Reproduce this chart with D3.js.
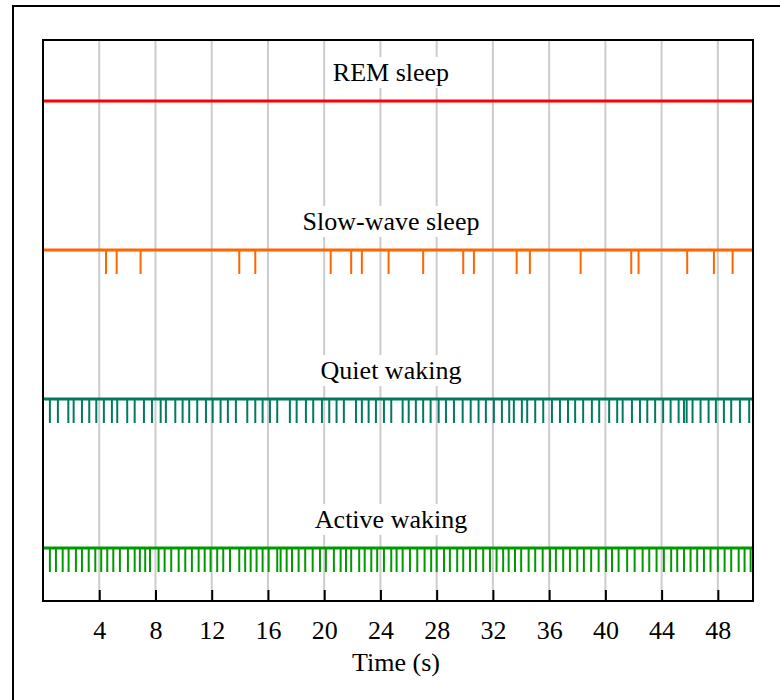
<!DOCTYPE html>
<html>
<head>
<meta charset="utf-8">
<script src="https://cdn.jsdelivr.net/npm/d3@7"></script>
<style>
  html, body { margin: 0; padding: 0; background: #fff; }
  svg { display: block; }
</style>
</head>
<body>
<svg id="chart" width="780" height="700"></svg>
<script>
// ---- data (times in seconds) ----
const states = ["REM sleep", "Slow-wave sleep", "Quiet waking", "Active waking"];
const colors = ["#ff0000", "#ff6600", "#007a62", "#009a00"];
const remSpikes = [];
const swsSpikes = [4.48, 5.24, 6.94, 13.96, 15.10, 20.46, 21.92, 22.68, 24.58, 27.04,
  29.89, 30.65, 33.69, 34.63, 38.24, 41.84, 42.36, 45.82, 47.72, 49.05];
const qwSpikes = [0.49, 1.06, 1.80, 2.18, 2.77, 3.29, 3.79, 4.33, 4.90, 5.28, 5.99, 6.52,
  7.18, 7.75, 8.37, 8.74, 9.41, 9.93, 10.40, 10.97, 11.59, 12.07, 12.63, 13.15, 13.72,
  14.53, 15.10, 15.62, 16.14, 16.66, 17.56, 18.04, 18.70, 19.22, 19.84, 20.36, 20.88,
  21.40, 22.26, 22.68, 23.16, 23.68, 24.25, 24.77, 25.58, 26.01, 26.52, 27.04, 27.57,
  28.14, 28.66, 29.23, 29.85, 30.42, 30.98, 31.50, 32.07, 32.64, 33.16, 33.49, 34.06,
  34.44, 35.01, 35.58, 36.20, 36.77, 37.34, 37.85, 38.42, 39.04, 39.56, 40.27, 40.84,
  41.23, 41.89, 42.46, 42.98, 43.54, 44.11, 44.64, 45.21, 45.59, 45.78, 46.20, 46.77,
  47.34, 47.86, 48.43, 48.95, 49.57, 50.23];
const awSpikes = [0.49, 0.92, 1.40, 1.82, 2.34, 2.77, 3.25, 3.72, 4.14, 4.57, 5.00, 5.47,
  6.04, 6.52, 6.89, 7.27, 7.61, 8.22, 8.65, 9.12, 9.65, 10.12, 10.59, 11.07, 11.50, 11.92,
  12.39, 12.82, 13.30, 13.96, 14.38, 14.77, 15.19, 15.62, 16.05, 16.66, 16.90, 17.33,
  17.71, 18.18, 18.65, 19.18, 19.70, 20.12, 20.69, 21.17, 21.55, 21.92, 22.49, 22.88,
  23.35, 23.77, 24.25, 24.77, 25.15, 25.58, 26.10, 26.62, 27.14, 27.61, 28.00, 28.52,
  28.94, 29.46, 29.89, 30.37, 30.79, 31.31, 31.79, 32.26, 32.73, 33.12, 33.57, 34.01,
  34.54, 35.01, 35.54, 36.06, 36.48, 37.00, 37.48, 38.00, 38.47, 38.99, 39.52, 40.04,
  40.47, 40.94, 41.55, 42.08, 42.65, 43.12, 43.64, 44.16, 44.68, 45.11, 45.59, 46.06,
  46.53, 47.01, 47.48, 48.00, 48.48, 48.95, 49.48, 49.90, 50.33];
const spikeTrains = [remSpikes, swsSpikes, qwSpikes, awSpikes];
const xTicks = [4, 8, 12, 16, 20, 24, 28, 32, 36, 40, 44, 48];
const xDomain = [0, 50.5];
const xLabel = "Time (s)";

// ---- layout ----
const FONT = "'Liberation Serif', monospace";
const FS = 26;
const svg = d3.select("#chart");
const plot = { left: 43, top: 40, right: 753, bottom: 601 };

// outer frame (extends past the window at right/bottom)
svg.append("rect")
  .attr("x", 13).attr("y", 6).attr("width", 820).attr("height", 760)
  .attr("fill", "none").attr("stroke", "#000").attr("stroke-width", 2);

const x = d3.scaleLinear().domain(xDomain).range([plot.left, plot.right]);
const y = d3.scalePoint().domain(states).range([101, 548]);

// gridlines
svg.append("g").selectAll("line").data(xTicks).join("line")
  .attr("x1", d => x(d)).attr("x2", d => x(d))
  .attr("y1", plot.top).attr("y2", plot.bottom)
  .attr("stroke", "#cccccc").attr("stroke-width", 2);

// rows
const rows = svg.append("g").selectAll("g").data(states).join("g")
  .attr("transform", d => `translate(0,${y(d)})`);

rows.each(function(name, i) {
  const g = d3.select(this);
  const t = g.append("text")
    .attr("x", 391).attr("y", -20)
    .attr("text-anchor", "middle")
    .attr("font-family", FONT)
    .attr("font-size", FS)
    .attr("fill", "#000")
    .text(name);
  const bb = t.node().getBBox();
  g.insert("rect", "text")
    .attr("x", bb.x - 4).attr("y", bb.y - 1)
    .attr("width", bb.width + 8).attr("height", bb.height + 2)
    .attr("fill", "#fff");
  g.selectAll("line.spike").data(spikeTrains[i]).join("line")
    .attr("class", "spike")
    .attr("x1", d => x(d)).attr("x2", d => x(d))
    .attr("y1", 0).attr("y2", 24)
    .attr("stroke", colors[i]).attr("stroke-width", 2);
  g.append("line")
    .attr("x1", plot.left).attr("x2", plot.right)
    .attr("y1", 0).attr("y2", 0)
    .attr("stroke", colors[i]).attr("stroke-width", 3);
});

// x axis (ticks pointing inward)
const axis = d3.axisBottom(x).tickValues(xTicks).tickSizeInner(-11).tickSizeOuter(0);
const ax = svg.append("g").attr("transform", `translate(0,${plot.bottom})`).call(axis);
ax.attr("font-family", null).attr("font-size", null);
ax.select(".domain").remove();
ax.selectAll(".tick line").attr("stroke", "#000").attr("stroke-width", 2);
ax.selectAll(".tick text")
  .attr("y", 38).attr("dy", 0)
  .attr("font-family", FONT).attr("font-size", FS).attr("fill", "#000")
  .style("font-family", FONT).style("font-size", FS + "px");

// plot border
svg.append("rect")
  .attr("x", plot.left).attr("y", plot.top)
  .attr("width", plot.right - plot.left).attr("height", plot.bottom - plot.top)
  .attr("fill", "none").attr("stroke", "#000").attr("stroke-width", 2);

// axis title
svg.append("text")
  .attr("x", (plot.left + plot.right) / 2 - 2).attr("y", 671)
  .attr("text-anchor", "middle").attr("font-family", FONT).attr("font-size", FS)
  .attr("fill", "#000")
  .text(xLabel);
</script>
</body>
</html>
